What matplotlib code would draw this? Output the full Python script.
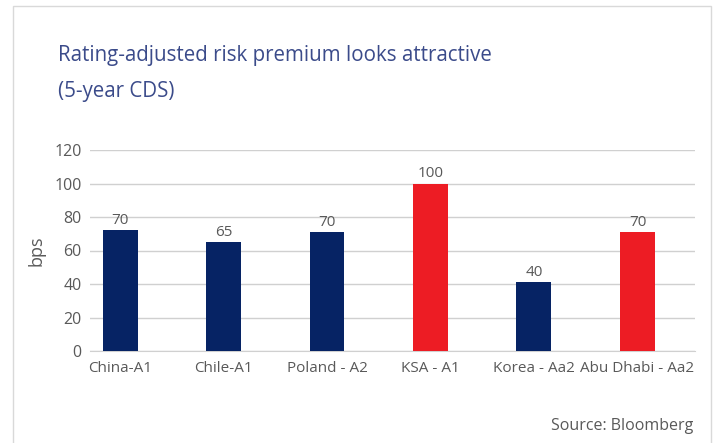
import matplotlib.pyplot as plt
from matplotlib.patches import Rectangle

plt.rcParams['font.family'] = ['Open Sans', 'DejaVu Sans']

# data
countries = ['China-A1', 'Chile-A1', 'Poland - A2', 'KSA - A1', 'Korea - Aa2', 'Abu Dhabi - Aa2']
heights = [72, 65, 71, 100, 41, 71]        # bar tops as drawn
labels = ['70', '65', '70', '100', '40', '70']  # printed value labels
colors = ['#062364', '#062364', '#062364', '#ed1c24', '#062364', '#ed1c24']
title_lines = ['Rating-adjusted risk premium looks attractive', '(5-year CDS)']

grey = '#595959'
W, H = 717, 443
fig = plt.figure(figsize=(W / 100, H / 100), dpi=100)

# plot area in pixels: x 90..695, y 150..351
ax = fig.add_axes([90 / W, 1 - 351 / H, 605 / W, 201 / H])
x = range(len(countries))
ax.bar(x, heights, width=0.338, color=colors, zorder=3)
for xi, h, lab in zip(x, heights, labels):
    ax.annotate(lab, (xi, h), xytext=(0, 1.5), textcoords='offset points',
                ha='center', va='bottom', fontsize=11, color=grey)

ax.set_xlim(-0.29, 5.556)
ax.set_ylim(0, 120)
ax.set_yticks(range(0, 121, 20))
ax.set_xticks(list(x))
ax.set_xticklabels(countries)
ax.grid(axis='y', color='#d0d0d0', lw=1, zorder=0)
for s in ['top', 'right', 'left']:
    ax.spines[s].set_visible(False)
ax.spines['bottom'].set_color('#d0d0d0')
ax.tick_params(length=0, colors=grey)
ax.tick_params(axis='y', pad=6, labelsize=11.5)
ax.tick_params(axis='x', pad=7, labelsize=11)
ax.set_ylabel('bps', fontsize=13, color=grey, labelpad=6)

# title and source
for i, line in enumerate(title_lines):
    fig.text(58 / W, 1 - (61 + 36 * i) / H, line, ha='left', va='baseline',
             fontsize=14.8, color='#3b4b8a')
fig.text(693 / W, 1 - 426 / H, 'Source: Bloomberg', ha='right', va='center',
         fontsize=11.5, color=grey)

# light frame around the chart
fig.patches.append(Rectangle((13 / W, -0.1), (711 - 13) / W, 1.1 - 6 / H,
                             transform=fig.transFigure, fill=False,
                             ec='#d9d9d9', lw=1))

fig.savefig('out.png', dpi=100)
